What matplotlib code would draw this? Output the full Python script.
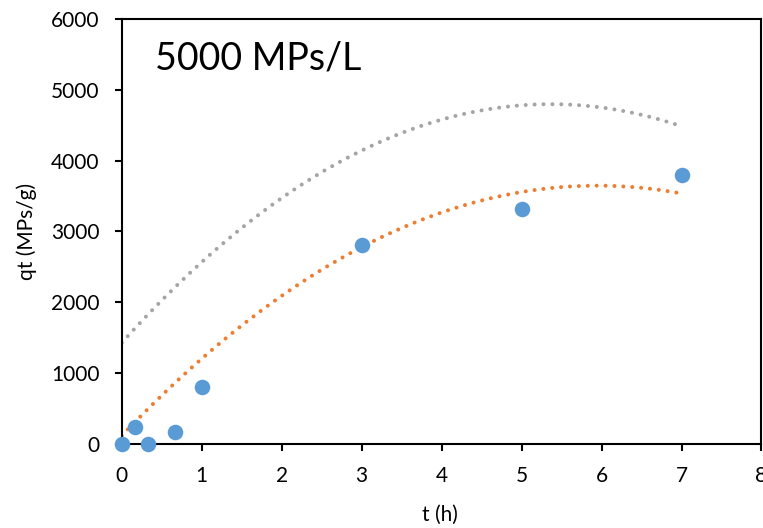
import numpy as np
import matplotlib.pyplot as plt

plt.rcParams['font.family'] = ['Lato', 'DejaVu Sans']

# measured uptake, 5000 MPs/L
t_h = [0, 0.17, 0.33, 0.67, 1, 3, 5, 7]
qt = [0, 240, 0, 165, 800, 2800, 3320, 3800]

# trend lines
t_trend = [0, 1, 2, 3, 4, 5, 6, 7]
q_orange = [110, 1200, 2090, 2780, 3270, 3550, 3640, 3540]
q_grey = [1425, 2560, 3480, 4140, 4575, 4780, 4750, 4485]

blue = '#5B9BD5'
orange = '#ED7D31'
grey = '#A5A5A5'

fig = plt.figure(figsize=(7.63, 5.28), dpi=100)
ax = fig.add_axes([0.1595, 0.1597, 0.8385, 0.8043])

dotted = (0, (0.01, 2.2))
tt = np.linspace(min(t_trend), max(t_trend), 200)

for q, col in [(q_orange, orange), (q_grey, grey)]:
    c = np.polyfit(t_trend, q, 2)
    ax.plot(tt, np.polyval(c, tt), color=col, lw=2.9, ls=dotted,
            dash_capstyle='round', zorder=2)

ax.scatter(t_h, qt, s=125, color=blue, zorder=3, clip_on=False, linewidths=0)

ax.set_xlim(0, 8)
ax.set_ylim(0, 6000)
ax.set_xticks(range(0, 9))
ax.set_yticks(range(0, 7000, 1000))

for s in ax.spines.values():
    s.set_linewidth(1.5)
ax.tick_params(direction='out', length=5, width=1.5, labelsize=15)
ax.tick_params(axis='y', pad=11)
ax.tick_params(axis='x', pad=11)

ax.set_xlabel('t (h)', fontsize=15)
ax.set_ylabel('qt (MPs/g)', fontsize=15)
ax.xaxis.set_label_coords(0.4975, -0.168)
ax.xaxis.label.set_va('center')
ax.yaxis.set_label_coords(-0.148, 0.5)
ax.yaxis.label.set_va('center')

ax.text(0.052, 0.88, '5000 MPs/L', transform=ax.transAxes, fontsize=27,
        va='baseline', ha='left')

fig.savefig('out.png', dpi=100)
